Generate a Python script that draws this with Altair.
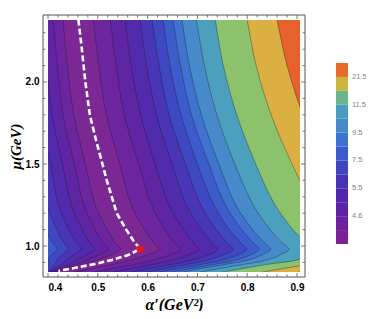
import altair as alt
import pandas as pd

# rows of the contour table (mu, GeV)
MU = [2.38, 2.1, 1.8, 1.5, 1.25, 1.1, 1.02, 0.98, 0.95, 0.92, 0.89, 0.865, 0.84]

# contour positions (alpha') right of the valley, one list per level
R1 = [0.491, 0.502, 0.517, 0.544, 0.567, 0.594, 0.612, 0.623, 0.604, 0.573, 0.532, 0.490, 0.452]
R2 = [0.525, 0.537, 0.553, 0.582, 0.608, 0.635, 0.654, 0.666, 0.648, 0.618, 0.576, 0.532, 0.493]
R3 = [0.555, 0.567, 0.586, 0.615, 0.643, 0.672, 0.692, 0.703, 0.686, 0.657, 0.614, 0.570, 0.530]
R4 = [0.585, 0.598, 0.618, 0.649, 0.678, 0.708, 0.729, 0.741, 0.725, 0.697, 0.653, 0.607, 0.566]
R5 = [0.609, 0.623, 0.643, 0.676, 0.707, 0.738, 0.759, 0.772, 0.755, 0.728, 0.683, 0.637, 0.596]
R6 = [0.631, 0.645, 0.667, 0.700, 0.733, 0.764, 0.787, 0.799, 0.784, 0.757, 0.712, 0.665, 0.622]
R7 = [0.651, 0.666, 0.688, 0.723, 0.756, 0.789, 0.812, 0.824, 0.809, 0.784, 0.737, 0.690, 0.647]
R8 = [0.669, 0.684, 0.708, 0.743, 0.777, 0.811, 0.834, 0.847, 0.832, 0.808, 0.760, 0.712, 0.669]
R9 = [0.698, 0.714, 0.739, 0.775, 0.812, 0.846, 0.870, 0.884, 0.869, 0.846, 0.797, 0.748, 0.704]
R10 = [0.736, 0.752, 0.779, 0.817, 0.856, 0.892, 0.917, 0.931, 0.917, 0.905, 0.845, 0.795, 0.750]
R11 = [0.800, 0.818, 0.848, 0.890, 0.932, 0.971, 0.998, 1.012, 1.000, 0.981, 0.928, 0.876, 0.829]
R12 = [0.860, 0.880, 0.912, 0.957, 1.003, 1.044, 1.073, 1.088, 1.077, 1.060, 1.005, 0.951, 0.902]

# contour positions left of the valley
L1 = [0.430, 0.439, 0.452, 0.475, 0.495, 0.519, 0.535, 0.546, 0.529, 0.502, 0.472, 0.440, 0.410]
L2 = [0.410, 0.419, 0.430, 0.453, 0.472, 0.495, 0.510, 0.521, 0.505, 0.482, 0.458, 0.432, 0.407]
L3 = [0.389, 0.397, 0.408, 0.429, 0.447, 0.469, 0.484, 0.494, 0.480, 0.461, 0.444, 0.423, 0.404]
L4 = [0.367, 0.375, 0.384, 0.405, 0.421, 0.442, 0.457, 0.467, 0.453, 0.439, 0.428, 0.414, 0.401]
L5 = [0.347, 0.354, 0.363, 0.382, 0.398, 0.418, 0.432, 0.441, 0.429, 0.419, 0.414, 0.406, 0.398]
L6 = [0.329, 0.336, 0.344, 0.362, 0.376, 0.396, 0.409, 0.419, 0.408, 0.401, 0.402, 0.399, 0.395]

# contour levels (band boundaries), the fill colour of each band in the plot,
# and the colours of the bar legend
LEVELS = [4.3, 4.6, 5.0, 5.5, 6.5, 7.5, 8.5, 9.5, 10.5, 11.5, 16.5, 21.5]
BAND_INDEX = [1, 2, 3, 4, 5, 6, 7, 8, 9, 10, 11, 12]
PLOT_COLORS = ["#7b2794", "#6c259e", "#5f25a5", "#522aac", "#4836b7", "#4047c2", "#3d5ccb",
               "#4072cf", "#478acb", "#4aa0bd", "#8cc26c", "#dcaf43", "#e6612b"]
LEGEND_COLORS = ["#7b2392", "#6b229c", "#5d22a3", "#5027aa", "#4633b5", "#3f45c1", "#3c5bcb",
                 "#3f71cf", "#4589cb", "#4c9cc0", "#6db58a", "#c8b63f", "#e86a2c"]
LEGEND_SHOWN = [2, 4, 6, 8, 10, 12]

# white dashed valley curve and the red minimum
VALLEY_ALPHA = [0.461, 0.468, 0.475, 0.484, 0.496, 0.505, 0.518, 0.538, 0.557, 0.572, 0.585,
                0.561, 0.528, 0.494, 0.460, 0.421]
VALLEY_MU = [2.38, 2.2, 2.0, 1.8, 1.65, 1.55, 1.40, 1.20, 1.10, 1.03, 0.982,
             0.945, 0.915, 0.890, 0.870, 0.848]
MIN_ALPHA = [0.585]
MIN_MU = [0.982]

X_MAJOR = [0.4, 0.5, 0.6, 0.7, 0.8, 0.9]
X_MINOR = [0.42, 0.44, 0.46, 0.48, 0.52, 0.54, 0.56, 0.58, 0.62, 0.64, 0.66, 0.68,
           0.72, 0.74, 0.76, 0.78, 0.82, 0.84, 0.86, 0.88]
Y_MAJOR = [1.0, 1.5, 2.0]
Y_MINOR = [0.9, 1.1, 1.2, 1.3, 1.4, 1.6, 1.7, 1.8, 1.9, 2.1, 2.2, 2.3]

W, H = 252, 252
xs = alt.Scale(domain=[0.4, 0.906], nice=False, zero=False)
ys = alt.Scale(domain=[0.8415, 2.378], nice=False, zero=False)

xaxis = alt.Axis(title="α′(GeV²)", values=X_MAJOR, format=".1f", ticks=False, domain=False,
                 grid=False, offset=5, labelPadding=5, labelFont="Liberation Sans",
                 labelFontWeight="bold", labelFontSize=10, labelColor="black",
                 titleFont="Liberation Serif", titleFontStyle="italic", titleFontWeight="bold",
                 titleFontSize=16, titlePadding=4, titleColor="black")
yaxis = alt.Axis(title="μ(GeV)", values=Y_MAJOR, format=".1f", ticks=False, domain=False,
                 grid=False, offset=5, labelPadding=4, labelFont="Liberation Sans",
                 labelFontWeight="bold", labelFontSize=10, labelColor="black",
                 titleFont="Liberation Serif", titleFontStyle="italic", titleFontWeight="bold",
                 titleFontSize=15, titlePadding=2, titleColor="black")

X = alt.X("alpha:Q", scale=xs, axis=xaxis)
Y = alt.Y("mu:Q", scale=ys, axis=yaxis)

layers = []
base = alt.Chart(pd.DataFrame({"f": [0]})).mark_rect(color=PLOT_COLORS[0]).encode(
    x=alt.value(0), x2=alt.value(W), y=alt.value(0), y2=alt.value(H))
layers.append(base)

RIGHT = [R1, R2, R3, R4, R5, R6, R7, R8, R9, R10, R11, R12]
LEFT = [L1, L2, L3, L4, L5, L6]

line_rows = []
for k, arr in enumerate(RIGHT):
    df = pd.DataFrame({"mu": MU, "alpha": arr})
    layers.append(alt.Chart(df).mark_area(orient="horizontal", interpolate="catmull-rom",
                                          clip=True, color=PLOT_COLORS[k + 1]).encode(
        x=alt.X("alpha:Q", scale=xs, axis=xaxis, stack=None), x2=alt.value(W), y=Y))
    for m, a in zip(MU, arr):
        line_rows.append({"cid": f"R{k}", "mu": m, "alpha": a})
for k, arr in enumerate(LEFT):
    df = pd.DataFrame({"mu": MU, "alpha": arr})
    layers.append(alt.Chart(df).mark_area(orient="horizontal", interpolate="catmull-rom",
                                          clip=True, color=PLOT_COLORS[k + 1]).encode(
        x=alt.X("alpha:Q", scale=xs, axis=xaxis, stack=None), x2=alt.value(0), y=Y))
    for m, a in zip(MU, arr):
        line_rows.append({"cid": f"L{k}", "mu": m, "alpha": a})

lines = alt.Chart(pd.DataFrame(line_rows)).mark_line(
    interpolate="catmull-rom", clip=True, color="#1a1a2a", strokeWidth=0.6, opacity=0.6).encode(
    x=X, y=Y, detail="cid:N", order=alt.Order("mu:Q"))
layers.append(lines)

valley = pd.DataFrame({"alpha": VALLEY_ALPHA, "mu": VALLEY_MU, "i": list(range(len(VALLEY_MU)))})
layers.append(alt.Chart(valley).mark_line(color="white", strokeWidth=2.6, strokeDash=[6, 3],
                                          clip=True).encode(x=X, y=Y, order="i:Q"))
layers.append(alt.Chart(pd.DataFrame({"alpha": MIN_ALPHA, "mu": MIN_MU})).mark_circle(
    color="#e8161c", size=55, opacity=1).encode(x=X, y=Y))

# bar legend: equal bands, labelled at every second boundary
label_expr = ("indexof([" + ",".join(str(v) for v in LEGEND_SHOWN) + "], datum.value) >= 0 ? "
              "format([" + ",".join(str(v) for v in LEVELS) + "][datum.value - 1], '.1f') : ''")
legend = alt.Legend(title=None, type="gradient", orient="none", legendX=288, legendY=43,
                    direction="vertical", gradientLength=181, gradientThickness=12,
                    labelExpr=label_expr, labelColor="#808080", labelFontSize=7.5,
                    labelFont="Liberation Sans", labelOffset=4, padding=0, labelOverlap=False)
legend_layer = alt.Chart(pd.DataFrame({"band": [0] + BAND_INDEX})).mark_square(
    opacity=0, size=1).encode(
    x=alt.value(0), y=alt.value(0),
    color=alt.Color("band:Q", scale=alt.Scale(type="threshold", domain=BAND_INDEX,
                                              range=LEGEND_COLORS), legend=legend))
layers.append(legend_layer)

frame = alt.Chart(pd.DataFrame({"f": [0]})).mark_rect(
    fillOpacity=0, stroke="#555555", strokeWidth=1).encode(
    x=alt.value(-5), x2=alt.value(W + 5), y=alt.value(-5), y2=alt.value(H + 5))
layers.append(frame)

TICK = "#555555"
def xticks(vals, length):
    df = pd.DataFrame({"alpha": vals})
    b = alt.Chart(df).mark_rule(color=TICK, strokeWidth=0.8).encode(
        x=X, y=alt.value(H + 5), y2=alt.value(H + 5 - length))
    t = alt.Chart(df).mark_rule(color=TICK, strokeWidth=0.8).encode(
        x=X, y=alt.value(-5), y2=alt.value(-5 + length))
    return [b, t]

def yticks(vals, length):
    df = pd.DataFrame({"mu": vals})
    l = alt.Chart(df).mark_rule(color=TICK, strokeWidth=0.8).encode(
        y=Y, x=alt.value(-5), x2=alt.value(-5 + length))
    r = alt.Chart(df).mark_rule(color=TICK, strokeWidth=0.8).encode(
        y=Y, x=alt.value(W + 5), x2=alt.value(W + 5 - length))
    return [l, r]

layers += xticks(X_MAJOR, 4) + xticks(X_MINOR, 2.5) + yticks(Y_MAJOR, 4) + yticks(Y_MINOR, 2.5)

chart = alt.layer(*layers).properties(
    width=W, height=H, autosize="none",
    padding={"left": 40, "top": 12, "right": 66, "bottom": 39},
    background="white",
).configure_view(stroke=None)

chart.save("out.html", embed_options={"renderer": "svg", "actions": False})
